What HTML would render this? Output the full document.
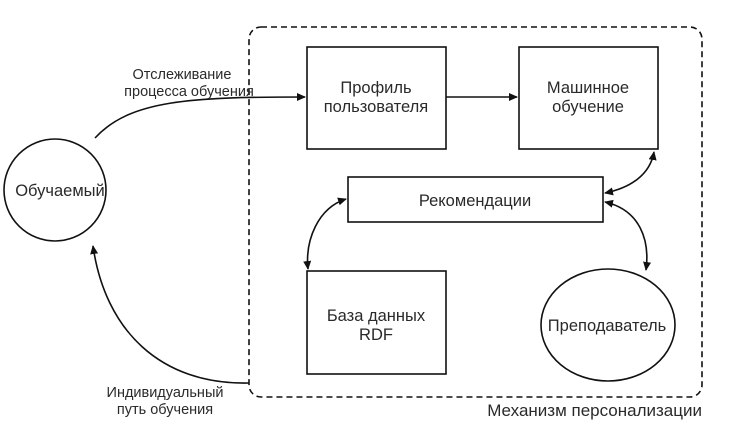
<!DOCTYPE html>
<html><head><meta charset="utf-8"><style>
body{margin:0;background:#fff}
svg{display:block}
text{font-family:"Liberation Sans",sans-serif;fill:#2a2a2a}
</style></head><body>
<svg width="738" height="439" viewBox="0 0 738 439" xmlns="http://www.w3.org/2000/svg">
<defs>
<marker id="a" markerWidth="10" markerHeight="10" refX="8" refY="5" orient="auto-start-reverse" markerUnits="userSpaceOnUse">
<path d="M0,1 L9,5 L0,9 Z" fill="#111"/>
</marker>
</defs>
<g fill="none" stroke="#111" stroke-width="1.6">
<rect x="249" y="27" width="453" height="370" rx="12" stroke-dasharray="6,4"/>
<rect x="307" y="47" width="139" height="102"/>
<rect x="519" y="47" width="139" height="102"/>
<rect x="348" y="177" width="255" height="45"/>
<rect x="307" y="271" width="139" height="103"/>
<ellipse cx="608" cy="325" rx="67" ry="56"/>
<circle cx="55" cy="190" r="51"/>
<path d="M95,138 C130,100 190,97 305,97" marker-end="url(#a)"/>
<path d="M446,97 L517,97" marker-end="url(#a)"/>
<path d="M605,193 C630,188 650,175 654,152" marker-start="url(#a)" marker-end="url(#a)"/>
<path d="M605,202 C640,210 650,240 646,270" marker-start="url(#a)" marker-end="url(#a)"/>
<path d="M346,199 C318,208 305,240 308,269" marker-start="url(#a)" marker-end="url(#a)"/>
<path d="M249,383 C160,385 105,330 93,246" marker-end="url(#a)"/>
</g>
<g font-size="16.5" text-anchor="middle">
<text x="376" y="93">Профиль</text>
<text x="376" y="112">пользователя</text>
<text x="588" y="93">Машинное</text>
<text x="588" y="112">обучение</text>
<text x="475" y="206">Рекомендации</text>
<text x="376" y="321">База данных</text>
<text x="376" y="340">RDF</text>
<text x="607" y="331">Преподаватель</text>
<text x="60" y="196">Обучаемый</text>
</g>
<g font-size="14.5" text-anchor="middle">
<text x="182" y="79">Отслеживание</text>
<text x="189" y="96">процесса обучения</text>
<text x="165" y="397">Индивидуальный</text>
<text x="165" y="414">путь обучения</text>
</g>
<text x="702" y="416" font-size="17" text-anchor="end">Механизм персонализации</text>
</svg>
</body></html>
